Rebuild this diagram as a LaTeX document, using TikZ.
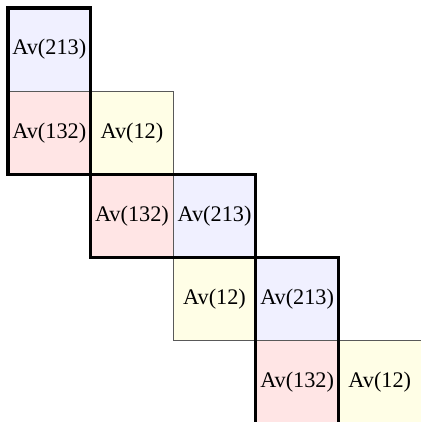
\documentclass[tikz,border=0pt]{standalone}
\usepackage{fontspec}
\setmainfont{Liberation Serif}
\begin{document}
\begin{tikzpicture}[x=1.5cm,y=1.511cm,
  cell/.style={draw=black!65, line width=0.5pt, minimum width=1.5cm, minimum height=1.511cm, inner sep=0pt, outer sep=0pt, font=\fontsize{11.5}{13}\selectfont},
  blue cell/.style={cell, fill=blue!6},
  red cell/.style={cell, fill=red!10},
  yellow cell/.style={cell, fill=yellow!10},
  block/.style={line width=1.6pt}]
\useasboundingbox (-0.097,0.096) rectangle (4.988,-4.975);
% staircase of cells
\node[blue cell] (a1) at (0.5,-0.5) {Av(213)};
\node[red cell] (b1) at (0.5,-1.5) {Av(132)};
\node[yellow cell] (c1) at (1.5,-1.5) {Av(12)};
\node[red cell] (b2) at (1.5,-2.5) {Av(132)};
\node[blue cell] (a2) at (2.5,-2.5) {Av(213)};
\node[yellow cell] (c2) at (2.5,-3.5) {Av(12)};
\node[blue cell] (a3) at (3.5,-3.5) {Av(213)};
\node[red cell] (b3) at (3.5,-4.5) {Av(132)};
\node[yellow cell] (c3) at (4.5,-4.5) {Av(12)};
% thick blocks
\draw[block] (a1.north west) rectangle (b1.south east);
\draw[block] (b2.north west) rectangle (a2.south east);
\draw[block] (a3.north west) rectangle (b3.south east);
\end{tikzpicture}
\end{document}
